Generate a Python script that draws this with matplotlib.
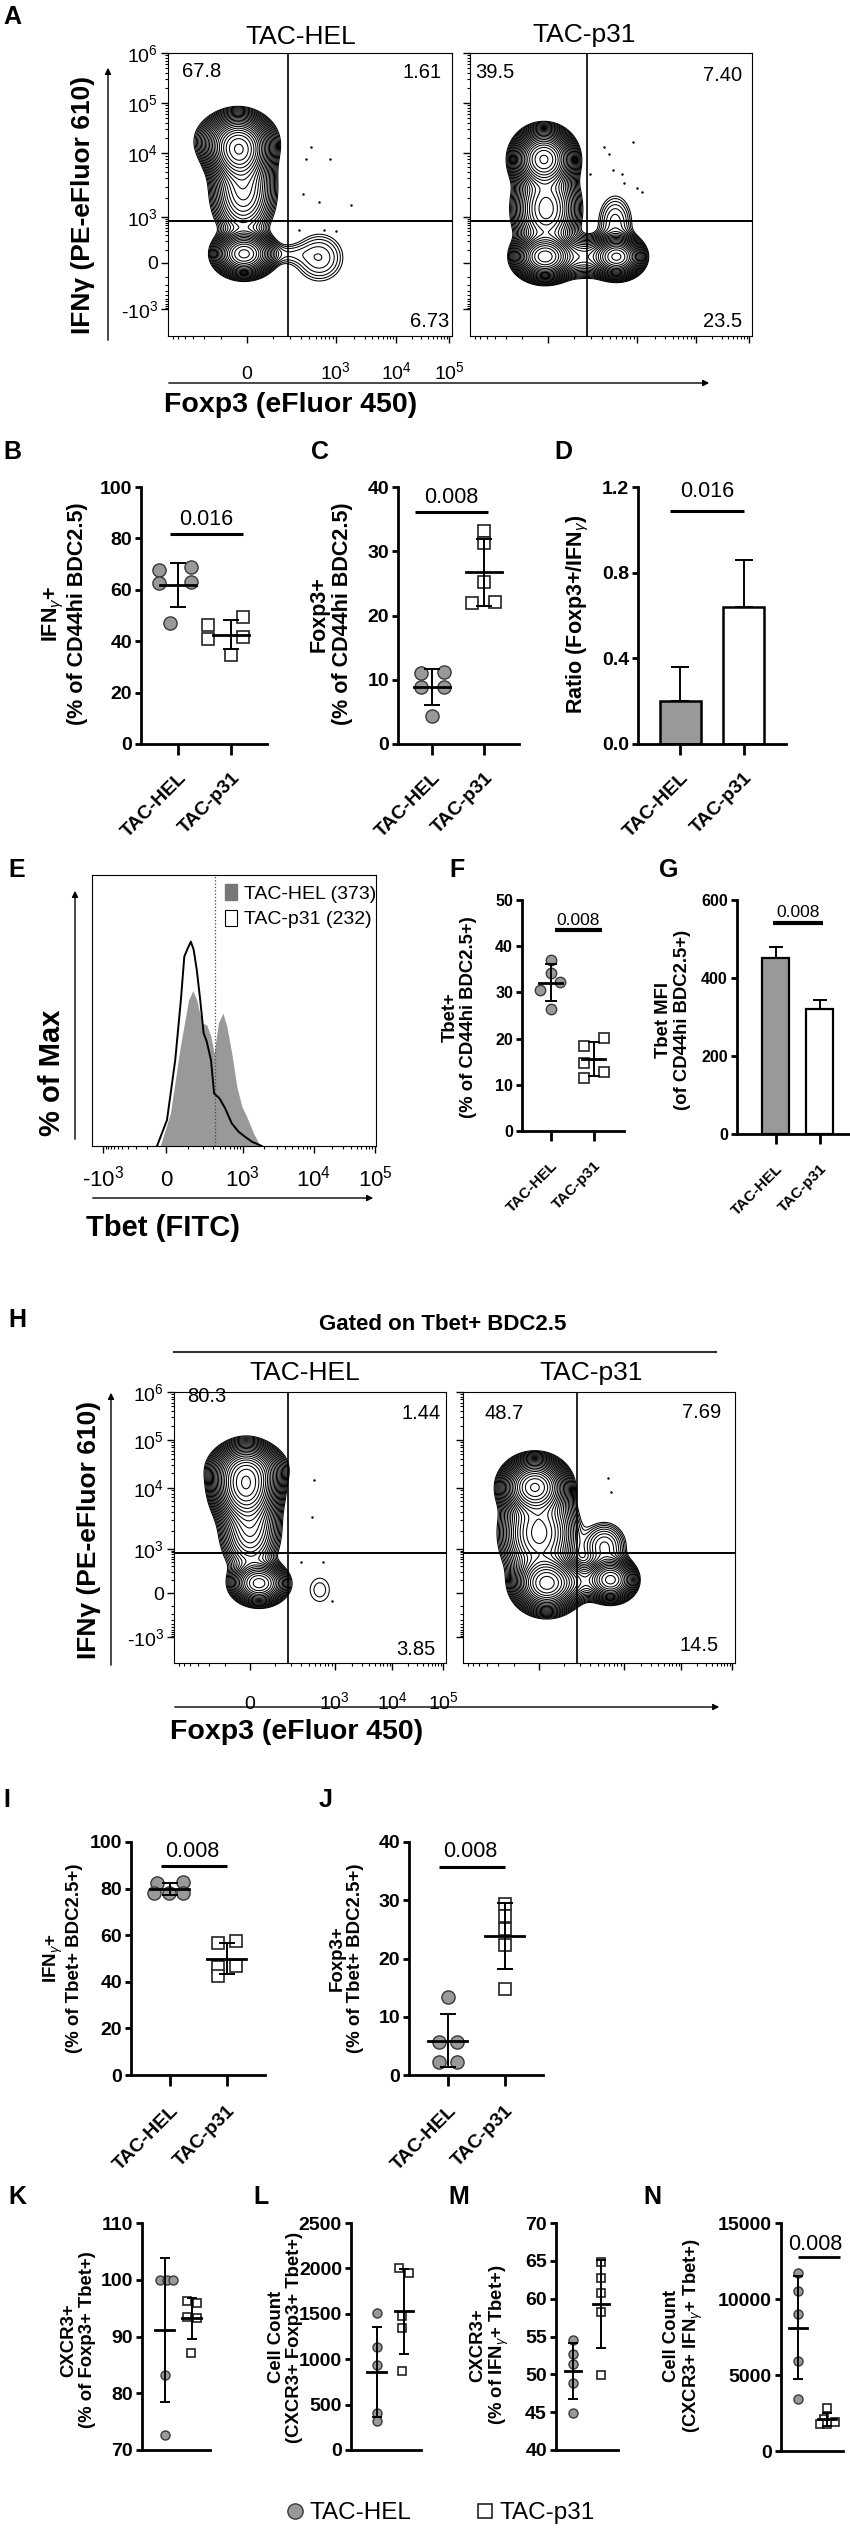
import numpy as np
import matplotlib
matplotlib.use('Agg')
import matplotlib.pyplot as plt
from matplotlib.patches import FancyArrowPatch, Patch
from matplotlib.lines import Line2D

plt.rcParams['font.family'] = ['Liberation Sans', 'DejaVu Sans']
plt.rcParams['mathtext.fontset'] = 'custom'
plt.rcParams['mathtext.rm'] = 'Liberation Sans'
plt.rcParams['mathtext.it'] = 'Liberation Sans:italic'
plt.rcParams['mathtext.bf'] = 'Liberation Sans:bold'

# ---------------- data ----------------
GROUPS = ['TAC-HEL', 'TAC-p31']

# flow populations (centre x, centre y, spread x, spread y, weight), display units 0..1
A_HEL_POP = dict(cx=[0.25, 0.265, 0.24, 0.268, 0.533, 0.41],
                 cy=[0.655, 0.52, 0.69, 0.29, 0.277, 0.29],
                 sx=[0.045, 0.05, 0.06, 0.045, 0.06, 0.05],
                 sy=[0.05, 0.08, 0.045, 0.035, 0.06, 0.025],
                 w=[1.0, 0.3, 0.3, 0.75, 0.04, 0.02])
A_P31_POP = dict(cx=[0.262, 0.27, 0.266, 0.52, 0.40, 0.515],
                 cy=[0.625, 0.45, 0.28, 0.28, 0.28, 0.40],
                 sx=[0.045, 0.05, 0.045, 0.04, 0.05, 0.04],
                 sy=[0.045, 0.07, 0.035, 0.032, 0.035, 0.065],
                 w=[1.0, 0.35, 0.9, 0.7, 0.12, 0.035])
H_HEL_POP = dict(cx=[0.264, 0.28, 0.27, 0.313, 0.536],
                 cy=[0.656, 0.5, 0.72, 0.294, 0.27],
                 sx=[0.05, 0.05, 0.06, 0.045, 0.045],
                 sy=[0.06, 0.08, 0.04, 0.035, 0.055],
                 w=[1.0, 0.2, 0.25, 0.45, 0.018])
H_P31_POP = dict(cx=[0.264, 0.28, 0.308, 0.543, 0.52, 0.42],
                 cy=[0.65, 0.48, 0.294, 0.307, 0.43, 0.3],
                 sx=[0.05, 0.06, 0.05, 0.04, 0.045, 0.05],
                 sy=[0.045, 0.08, 0.045, 0.035, 0.05, 0.035],
                 w=[1.0, 0.35, 0.9, 0.5, 0.06, 0.1])

A_HEL_DOTS_X = [0.504, 0.485, 0.571, 0.475, 0.533, 0.644, 0.46, 0.548, 0.59]
A_HEL_DOTS_Y = [0.669, 0.624, 0.624, 0.503, 0.473, 0.462, 0.375, 0.375, 0.37]
A_P31_DOTS_X = [0.578, 0.475, 0.493, 0.507, 0.539, 0.546, 0.592, 0.61, 0.425]
A_P31_DOTS_Y = [0.686, 0.668, 0.643, 0.587, 0.572, 0.54, 0.523, 0.51, 0.572]
H_HEL_DOTS_X = [0.516, 0.508, 0.466, 0.548, 0.581]
H_HEL_DOTS_Y = [0.675, 0.54, 0.374, 0.374, 0.227]
H_P31_DOTS_X = [0.533, 0.543]
H_P31_DOTS_Y = [0.681, 0.632]

A_HEL_Q = ['67.8', '1.61', '6.73']
A_P31_Q = ['39.5', '7.40', '23.5']
H_HEL_Q = ['80.3', '1.44', '3.85']
H_P31_Q = ['48.7', '7.69', '14.5']

FLOW_X_VALS = [0, 1e3, 1e4, 1e5]
FLOW_X_LABELS = ['0', '$10^3$', '$10^4$', '$10^5$']
FLOW_Y_VALS = [-1e3, 0, 1e3, 1e4, 1e5, 1e6]
FLOW_Y_LABELS = ['-$10^3$', '0', '$10^3$', '$10^4$', '$10^5$', '$10^6$']

# Tbet histogram (display x, % of max)
E_HEL_X = [0.240, 0.276, 0.311, 0.34, 0.355, 0.369, 0.387, 0.404, 0.419, 0.43, 0.445,
           0.461, 0.475, 0.492, 0.51, 0.528, 0.545, 0.569, 0.592]
E_HEL_Y = [0, 16.0, 48.7, 71.5, 76.0, 71.5, 60.1, 59.3, 53.4, 45.4, 60.1, 65.0, 58.4,
           45.4, 29.0, 19.2, 14.3, 6.2, 0]
E_P31_X = [0.229, 0.264, 0.293, 0.313, 0.325, 0.337, 0.348, 0.358, 0.369, 0.381, 0.393,
           0.404, 0.419, 0.43, 0.449, 0.469, 0.492, 0.516, 0.539, 0.563, 0.598]
E_P31_Y = [0, 12.7, 42.0, 71.5, 92.7, 96.7, 100, 96.0, 86.1, 71.5, 55.2, 51.1, 42.0,
           25.7, 23.3, 18.4, 11.1, 7.0, 4.5, 2.1, 0]
E_LEGEND = ['TAC-HEL (373)', 'TAC-p31 (232)']
E_X_VALS = [-1e3, 0, 1e3, 1e4, 1e5]
E_X_LABELS = ['-$10^3$', '0', '$10^3$', '$10^4$', '$10^5$']

B_HEL = [67.7, 68.9, 62.6, 63.0, 47.1]
B_P31 = [46.3, 49.4, 40.9, 41.6, 34.6]
C_HEL = [11.0, 11.2, 8.9, 8.9, 4.3]
C_P31 = [33.2, 31.3, 25.2, 21.9, 22.1]
D_MEAN = [0.20, 0.64]
D_SD = [0.16, 0.22]
F_HEL = [37.0, 34.3, 32.3, 30.5, 26.3]
F_P31 = [18.4, 20.1, 14.7, 12.8, 11.5]
G_MEAN = [451, 320]
G_SD = [28, 24]
I_HEL = [82.4, 82.9, 78.1, 77.9, 78.1]
I_P31 = [56.7, 57.6, 46.4, 46.9, 42.4]
J_HEL = [13.4, 5.7, 5.7, 2.3, 2.3]
J_P31 = [29.4, 27.3, 25.1, 22.4, 14.8]
K_HEL = [100, 100, 100, 83.2, 72.6]
K_P31 = [96.2, 95.9, 93.5, 93.2, 87.1]
L_HEL = [1507, 1132, 938, 404, 324]
L_P31 = [2004, 1949, 1471, 1342, 875]
M_HEL = [54.5, 52.7, 51.4, 48.8, 44.9]
M_P31 = [64.8, 62.7, 60.8, 58.3, 49.9]
N_HEL = [11700, 10530, 9010, 5920, 3420]
N_P31 = [2830, 2100, 1780, 1910, 1800]

# ---------------- figure helpers ----------------
W, H = 850, 2528
fig = plt.figure(figsize=(W / 100, H / 100), dpi=100)

GRAY = '#999999'
HEL_STYLE = dict(marker='o', mfc=GRAY, mec='#3a3a3a', mew=1.0)
P31_STYLE = dict(marker='s', mfc='white', mec='#222222', mew=1.2)


def ax_px(x0, y0, x1, y1):
    return fig.add_axes([x0 / W, 1 - y1 / H, (x1 - x0) / W, (y1 - y0) / H])


def ftext(x, y, s, **kw):
    fig.text(x / W, 1 - y / H, s, **kw)


def arrow(x0, y0, x1, y1):
    fig.add_artist(FancyArrowPatch((x0 / W, 1 - y0 / H), (x1 / W, 1 - y1 / H),
                                   transform=fig.transFigure, arrowstyle='-|>',
                                   mutation_scale=9, lw=1.0, color='k'))


def biex(vals, known_v, known_p):
    u = np.arcsinh(np.asarray(vals, float) / 100) / np.log(10)
    ku = np.arcsinh(np.asarray(known_v, float) / 100) / np.log(10)
    return np.interp(u, ku, known_p, left=np.nan, right=np.nan)


MINOR_VALS = ([s * k * 100 for s in (-1, 1) for k in range(1, 10)] +
              [k * 10 ** d for d in (3, 4, 5) for k in range(2, 10)])


def flow_ticks(ax, axis, known_v, known_p, major_v, labels, show, fs, pad):
    major = biex(major_v, known_v, known_p)
    minor = biex(MINOR_VALS, known_v, known_p)
    minor = minor[np.isfinite(minor) & (minor > 0.003) & (minor < 0.997)]
    if axis == 'x':
        ax.set_xticks(major)
        ax.set_xticks(minor, minor=True)
        ax.set_xticklabels(labels if show else [])
        for lab in ax.get_xticklabels():
            lab.set_va('baseline')
    else:
        ax.set_yticks(major)
        ax.set_yticks(minor, minor=True)
        ax.set_yticklabels(labels if show else [])
        for lab in ax.get_yticklabels():
            lab.set_va('center_baseline')
    ax.tick_params(axis=axis, which='major', direction='out', length=5, width=1.0,
                   labelsize=fs, pad=pad)
    ax.tick_params(axis=axis, which='minor', direction='out', length=2.5, width=0.8)


FX_V = [-1e3, 0, 1e3, 1e4, 1e5]
FX_P = [-0.035, 0.278, 0.591, 0.803, 0.99]
FY_V = [-1e3, 0, 1e3, 1e4, 1e5, 1e6]
FY_P = [0.095, 0.258, 0.42, 0.647, 0.823, 1.0]
GATE_Y = 0.405


def flow_panel(box, pop, dx, dy, quads, qpos, gate_x, show_x, show_y, xpad):
    ax = ax_px(*box)
    g = np.linspace(0, 1, 300)
    X, Y = np.meshgrid(g, g)
    Z = np.zeros_like(X)
    for cx, cy, sx, sy, w in zip(pop['cx'], pop['cy'], pop['sx'], pop['sy'], pop['w']):
        Z += w * np.exp(-0.5 * (((X - cx) / sx) ** 2 + ((Y - cy) / sy) ** 2))
    levels = np.geomspace(0.012, 0.95, 24) * Z.max()
    ax.contour(X, Y, Z, levels=levels, colors='k', linewidths=0.75)
    ax.plot(dx, dy, ls='none', marker='.', ms=1.5, color='k')
    ax.axhline(GATE_Y, color='k', lw=1.4)
    ax.axvline(gate_x, color='k', lw=1.2)
    ax.set_xlim(0, 1)
    ax.set_ylim(0, 1)
    for s in ax.spines.values():
        s.set_linewidth(0.8)
    flow_ticks(ax, 'x', FX_V, FX_P, FLOW_X_VALS, FLOW_X_LABELS, show_x, 14, xpad)
    flow_ticks(ax, 'y', FY_V, FY_P, FLOW_Y_VALS, FLOW_Y_LABELS, show_y, 14, 2)
    aligns = ['left', 'right', 'right']
    for q, (qx, qy), ha in zip(quads, qpos, aligns):
        ax.text(qx, qy, q, transform=ax.transAxes, ha=ha, va='center', fontsize=14.5)
    return ax


def style_dot_axes(ax, ylim, yticks, fs):
    ax.set_ylim(*ylim)
    ax.set_yticks(yticks)
    for side in ('top', 'right'):
        ax.spines[side].set_visible(False)
    for side in ('left', 'bottom'):
        ax.spines[side].set_linewidth(2.0)
    ax.tick_params(axis='y', direction='out', length=4.5, width=2, labelsize=fs, pad=2)
    for lab in ax.get_yticklabels():
        lab.set_fontweight('bold')


def cat_labels(ax, show, fs, pad, tick_len):
    ax.set_xticks([0, 1])
    if show:
        ax.set_xticklabels(GROUPS, rotation=45, ha='right', va='top',
                           rotation_mode='anchor', fontsize=fs, fontweight='bold')
        ax.tick_params(axis='x', direction='out', length=tick_len, width=2, pad=pad)
    else:
        ax.set_xticklabels([])
        ax.tick_params(axis='x', length=0)


def sig(ax, y, x0, x1, tx, ty, fs, label, lw=2.2):
    ax.plot([x0, x1], [y, y], color='k', lw=lw, solid_capstyle='butt', clip_on=False)
    ax.text(tx, ty, label, ha='center', va='center', fontsize=fs)


def dot_panel(box, hel, p31, xlim, ylim, yticks, jit, ms, half=0.34, cap=6,
              fs_tick=14, show_x=True, fs_cat=14, pad=10, tick_len=8):
    ax = ax_px(*box)
    for i, (vals, j, st, m_s) in enumerate(zip((hel, p31), jit, (HEL_STYLE, P31_STYLE), ms)):
        ax.plot(i + np.asarray(j), vals, ls='none', ms=m_s, zorder=3, clip_on=False, **st)
        m = np.mean(vals)
        sd = np.std(vals, ddof=1)
        ax.plot([i - half, i + half], [m, m], color='k', lw=2.0, zorder=4)
        ax.errorbar(i, m, yerr=sd, fmt='none', ecolor='k', elinewidth=1.4,
                    capsize=cap, capthick=1.4, zorder=4)
    ax.set_xlim(*xlim)
    style_dot_axes(ax, ylim, yticks, fs_tick)
    cat_labels(ax, show_x, fs_cat, pad, tick_len)
    return ax


def bar_panel(box, means, sds, xlim, ylim, yticks, width, cap, fs_tick=14, fs_cat=14,
              pad=10, lw=1.8, tick_len=8):
    ax = ax_px(*box)
    ax.bar([0, 1], means, width=width, color=[GRAY, 'white'], edgecolor='k', lw=lw, zorder=2)
    ax.errorbar([0, 1], means, yerr=[[0, 0], sds], fmt='none', ecolor='k', elinewidth=1.4,
                capsize=cap, capthick=1.4, zorder=1)
    ax.set_xlim(*xlim)
    style_dot_axes(ax, ylim, yticks, fs_tick)
    cat_labels(ax, True, fs_cat, pad, tick_len)
    return ax


def panel_letter(x, y, s):
    ftext(x, y, s, fontsize=18, fontweight='bold', ha='left', va='center')


def ylabel2(x, y, lines, fs, gap=1.08):
    ftext(x, y, '\n'.join(lines), rotation=90, ha='center', va='center', fontsize=fs,
          fontweight='bold', multialignment='center', linespacing=gap)


# ---------------- A ----------------
panel_letter(3, 17, 'A')
ftext(301, 37, GROUPS[0], fontsize=19, ha='center', va='center')
ftext(584, 35, GROUPS[1], fontsize=19, ha='center', va='center')
flow_panel((168, 53, 452, 336), A_HEL_POP, A_HEL_DOTS_X, A_HEL_DOTS_Y, A_HEL_Q,
           [(0.05, 0.935), (0.965, 0.93), (0.99, 0.053)], 0.423, True, True, 26)
flow_panel((470, 53, 752, 336), A_P31_POP, A_P31_DOTS_X, A_P31_DOTS_Y, A_P31_Q,
           [(0.018, 0.93), (0.965, 0.922), (0.965, 0.05)], 0.415, False, False, 26)
ftext(83, 205, 'IFNγ (PE-eFluor 610)', rotation=90, ha='center', va='center', fontsize=19,
      fontweight='bold')
arrow(108, 343, 108, 65)
arrow(166, 383, 712, 383)
ftext(164, 405, 'Foxp3 (eFluor 450)', fontsize=20.5, fontweight='bold', ha='left',
      va='center')

# ---------------- B C D ----------------
panel_letter(3, 452, 'B')
panel_letter(311, 452, 'C')
panel_letter(554, 452, 'D')
axB = dot_panel((141, 487, 267, 744), B_HEL, B_P31, (-0.70, 1.68), (0, 100),
                [0, 20, 40, 60, 80, 100],
                ([-0.36, 0.24, -0.36, 0.24, -0.15], [-0.43, 0.23, -0.43, 0.23, 0]), (9.5, 8))
sig(axB, 81.7, -0.15, 1.23, 0.53, 87.4, 15.5, '0.016')
ylabel2(64.5, 614, ['IFN$_\\gamma$+', '(% of CD44hi BDC2.5)'], 15.5)

axC = dot_panel((398, 487, 519, 744), C_HEL, C_P31, (-0.65, 1.67), (0, 40), [0, 10, 20, 30, 40],
                ([-0.21, 0.23, -0.21, 0.23, 0], [0, 0, 0, -0.23, 0.21]), (9.5, 8))
sig(axC, 36.1, -0.33, 1.07, 0.37, 38.4, 15.5, '0.008')
ylabel2(331, 614, ['Foxp3+', '(% of CD44hi BDC2.5)'], 15.5, 1.15)

axD = bar_panel((638, 487, 786, 744), D_MEAN, D_SD, (-0.66, 1.66), (0, 1.2),
                [0.0, 0.4, 0.8, 1.2], 0.64, 6.5)
axD.set_yticklabels(['0.0', '0.4', '0.8', '1.2'], fontweight='bold')
sig(axD, 1.09, -0.16, 1.0, 0.42, 1.18, 15.5, '0.016')
ftext(578, 614, 'Ratio (Foxp3+/IFN$_\\gamma$)', rotation=90, ha='center', va='center',
      fontsize=15.5, fontweight='bold')

# ---------------- E F G ----------------
panel_letter(8, 870, 'E')
panel_letter(449, 870, 'F')
panel_letter(659, 870, 'G')
axE = ax_px(92, 875, 376, 1146)
axE.fill_between(E_HEL_X, E_HEL_Y, color=GRAY, lw=0)
axE.plot(E_P31_X, E_P31_Y, color='k', lw=1.4)
axE.axvline(0.434, color='#444444', ls=':', lw=0.9)
axE.set_xlim(0, 1)
axE.set_ylim(0, 132.6)
axE.set_yticks([])
for s in axE.spines.values():
    s.set_linewidth(0.8)
flow_ticks(axE, 'x', [-1e3, 0, 1e3, 1e4, 1e5], [0.04, 0.26, 0.531, 0.78, 0.997], E_X_VALS,
           E_X_LABELS, True, 16, 24)
axE.legend([Patch(facecolor='#777777', edgecolor='#777777'),
            Patch(facecolor='white', edgecolor='k', lw=0.8)], E_LEGEND,
           loc='upper left', bbox_to_anchor=(0.44, 0.995), frameon=False, fontsize=14,
           handlelength=0.65, handleheight=0.9, handletextpad=0.35, labelspacing=0.35,
           borderaxespad=0.2, borderpad=0.2)
arrow(75, 1142, 75, 888)
arrow(90, 1198, 376, 1198)
ftext(52, 1073, '% of Max', rotation=90, ha='center', va='center', fontsize=21,
      fontweight='bold')
ftext(86, 1228, 'Tbet (FITC)', fontsize=21, fontweight='bold', ha='left', va='center')

axF = dot_panel((522, 900, 624, 1131), F_HEL, F_P31, (-0.67, 1.70), (0, 50),
                [0, 10, 20, 30, 40, 50],
                ([0, 0, 0.22, -0.26, 0], [-0.23, 0.23, -0.23, 0.23, -0.23]), (7.5, 6.5),
                half=0.27, cap=4.5, fs_tick=11.5, fs_cat=11, pad=13, tick_len=7)
sig(axF, 43.5, 0.09, 1.19, 0.63, 45.6, 12.5, '0.008', lw=3)
ylabel2(459, 1017, ['Tbet+', '(% of CD44hi BDC2.5+)'], 13.3)

axG = bar_panel((737, 900, 850, 1134), G_MEAN, G_SD, (-0.875, 1.69), (0, 600),
                [0, 200, 400, 600], 0.63, 5, fs_tick=11.5, fs_cat=11, pad=13, lw=1.6,
                tick_len=7)
sig(axG, 541, -0.05, 1.07, 0.5, 568, 12.5, '0.008', lw=3)
ylabel2(673, 1020, ['Tbet MFI', '(of CD44hi BDC2.5+)'], 13.3)

# ---------------- H ----------------
panel_letter(8, 1320, 'H')
ftext(443, 1325, 'Gated on Tbet+ BDC2.5', fontsize=16, fontweight='bold', ha='center',
      va='center')
fig.add_artist(Line2D([174 / W, 716 / W], [1 - 1352 / H] * 2, color='#333333', lw=1.5))
ftext(305, 1373, GROUPS[0], fontsize=19, ha='center', va='center')
ftext(591, 1373, GROUPS[1], fontsize=19, ha='center', va='center')
flow_panel((174, 1392, 446, 1663), H_HEL_POP, H_HEL_DOTS_X, H_HEL_DOTS_Y, H_HEL_Q,
           [(0.05, 0.985), (0.98, 0.92), (0.96, 0.05)], 0.419, True, True, 28)
flow_panel((463, 1392, 735, 1663), H_P31_POP, H_P31_DOTS_X, H_P31_DOTS_Y, H_P31_Q,
           [(0.08, 0.92), (0.95, 0.925), (0.94, 0.065)], 0.419, False, False, 28)
ftext(89, 1530, 'IFNγ (PE-eFluor 610)', rotation=90, ha='center', va='center', fontsize=19,
      fontweight='bold')
arrow(111, 1668, 111, 1390)
arrow(172, 1707, 722, 1707)
ftext(170, 1732, 'Foxp3 (eFluor 450)', fontsize=20.5, fontweight='bold', ha='left',
      va='center')

# ---------------- I J ----------------
panel_letter(3, 1800, 'I')
panel_letter(319, 1800, 'J')
axI = dot_panel((131, 1842, 265, 2075), I_HEL, I_P31, (-0.68, 1.67), (0, 100),
                [0, 20, 40, 60, 80, 100],
                ([-0.23, 0.24, -0.28, -0.01, 0.24], [-0.16, 0.16, -0.16, 0.16, -0.16]),
                (9.5, 8), pad=12)
sig(axI, 89.6, -0.16, 1.0, 0.39, 95.8, 15.5, '0.008')
ylabel2(62.5, 1958, ['IFN$_\\gamma$+', '(% of Tbet+ BDC2.5+)'], 13.4)

axJ = dot_panel((409, 1842, 543, 2075), J_HEL, J_P31, (-0.68, 1.67), (0, 40),
                [0, 10, 20, 30, 40],
                ([0, 0.16, -0.16, -0.16, 0.16], [0, 0, 0, 0, 0]), (9.5, 8), pad=12)
sig(axJ, 35.7, -0.16, 1.0, 0.39, 38.4, 15.5, '0.008')
ylabel2(346, 1958, ['Foxp3+', '(% of Tbet+ BDC2.5+)'], 13.4)

# ---------------- K L M N ----------------
panel_letter(8, 2197, 'K')
panel_letter(253, 2197, 'L')
panel_letter(448, 2197, 'M')
panel_letter(643, 2197, 'N')
small = (6.5, 5.5)
dot_panel((142, 2223, 210, 2450), K_HEL, K_P31, (-0.85, 1.67), (70, 110),
          [70, 80, 90, 100, 110],
          ([-0.2, 0.06, 0.3, 0, 0], [-0.2, 0.2, -0.2, 0.2, -0.04]), small, half=0.35, cap=3.5,
          show_x=False)
ylabel2(78, 2340, ['CXCR3+', '(% of Foxp3+ Tbet+)'], 13.3)

dot_panel((351, 2223, 421, 2450), L_HEL, L_P31, (-0.96, 1.63), (0, 2500),
          [0, 500, 1000, 1500, 2000, 2500],
          ([0, 0, 0, 0, 0], [-0.2, 0.18, -0.06, -0.06, -0.06]), small, half=0.35, cap=3.5,
          show_x=False)
ylabel2(285.5, 2337, ['Cell Count', '(CXCR3+ Foxp3+ Tbet+)'], 13.3)

dot_panel((556, 2223, 618, 2450), M_HEL, M_P31, (-0.61, 1.61), (40, 70),
          [40, 45, 50, 55, 60, 65, 70],
          ([0, 0, 0, 0, 0], [0, 0, 0, 0, 0]), small, half=0.3, cap=3.5, show_x=False)
ylabel2(490, 2345, ['CXCR3+', '(% of IFN$_\\gamma$+ Tbet+)'], 13.3)

axN = dot_panel((781, 2223, 843, 2451), N_HEL, N_P31, (-0.59, 1.55), (0, 15000),
                [0, 5000, 10000, 15000],
                ([0, 0, 0, 0, 0], [0, -0.1, -0.25, 0.28, 0]), small, half=0.3, cap=3.5,
                show_x=False)
sig(axN, 12760, 0.0, 1.45, 0.59, 13600, 15.5, '0.008', lw=2.0)
ylabel2(684, 2336, ['Cell Count', '(CXCR3+ IFN$_\\gamma$+ Tbet+)'], 13.3)

# bottom legend
handles = [Line2D([], [], ls='none', ms=11, **HEL_STYLE),
           Line2D([], [], ls='none', ms=10, **P31_STYLE)]
fig.legend(handles, GROUPS, loc='center', bbox_to_anchor=(440 / W, 1 - 2513 / H), ncol=2,
           frameon=False, fontsize=17.5, handletextpad=0.2, columnspacing=2.6,
           handlelength=0.8)

fig.savefig('out.png', dpi=100)
